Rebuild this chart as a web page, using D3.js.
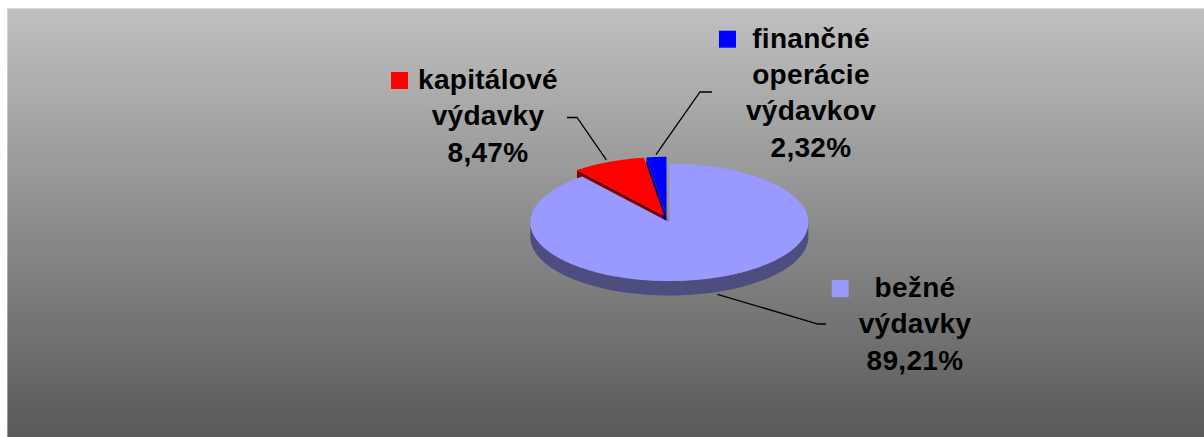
<!DOCTYPE html>
<html>
<head>
<meta charset="utf-8">
<script src="https://cdn.jsdelivr.net/npm/d3@7"></script>
<style>
    html, body { margin: 0; padding: 0; background: #fff; }
    svg { display: block; }
</style>
</head>
<body>
<div id="chart"></div>
<script>
const categories = ["bežné výdavky", "kapitálové výdavky", "finančné operácie výdavkov"];
const values = [89.21, 8.47, 2.32];
const labelLines = [["bežné", "výdavky"], ["kapitálové", "výdavky"], ["finančné", "operácie", "výdavkov"]];

const W = 1204, H = 437;

const svg = d3.select("#chart")
    .append("svg")
    .attr("width", W)
    .attr("height", H);

// fundo em degradê (cinza claro em cima, escuro embaixo)
const grad = svg.append("defs").append("linearGradient")
    .attr("id", "bg")
    .attr("x1", 0).attr("y1", 0).attr("x2", 0).attr("y2", 1);
grad.append("stop").attr("offset", "0%").attr("stop-color", "#c0c0c0");
grad.append("stop").attr("offset", "100%").attr("stop-color", "#595959");

svg.append("rect")
    .attr("x", 7).attr("y", 8)
    .attr("width", W - 7).attr("height", H - 8)
    .attr("fill", "url(#bg)");

svg.append("path")
    .attr("d", `M7.5,${H} V8.5 H${W}`)
    .attr("fill", "none")
    .attr("stroke", "#fff")
    .attr("stroke-opacity", 0.35);

// geometria da pizza 3D
const cx = 667, cy = 219, rx = 139, ry = 58.7, depth = 14.5, explode = 7;

const color = d3.scaleOrdinal().domain(categories).range(["#9999ff", "#ff0000", "#0000ff"]);
const sideColor = d3.scaleOrdinal().domain(categories).range(["#4d4d80", "#800000", "#000080"]);

const data = categories.map((c, i) => ({ category: c, value: values[i], lines: labelLines[i] }));
const arcs = d3.pie().sort(null).value(d => d.value)(data);

const fmt = v => d3.format(".2f")(v).replace(".", ",") + "%";

function origin(a) {
    const mid = (a.startAngle + a.endAngle) / 2;
    return { x: cx + explode * Math.sin(mid), y: cy - explode * Math.cos(mid) * 0.5 };
}

function pt(o, ang, r = 1, z = 0) {
    return [o.x + rx * r * Math.sin(ang), o.y - ry * r * Math.cos(ang) + z];
}

const line = d3.line();

function arcPoints(o, a0, a1, z) {
    const n = Math.max(2, Math.ceil((a1 - a0) / 0.02));
    return d3.range(n + 1).map(i => pt(o, a0 + (a1 - a0) * i / n, 1, z));
}

const walls = svg.append("g");
const tops = svg.append("g");

arcs.forEach(a => {
    const o = origin(a);
    const cat = a.data.category;

    // paredes radiais (visíveis quando a normal aponta pra frente)
    [[a.startAngle, a.startAngle - Math.PI / 2], [a.endAngle, a.endAngle + Math.PI / 2]].forEach(([ang, nrm]) => {
        if (Math.cos(nrm) < -0.01) {
            const p = pt(o, ang);
            walls.append("path")
                .attr("d", line([[o.x, o.y], p, [p[0], p[1] + depth], [o.x, o.y + depth]]) + "Z")
                .attr("fill", sideColor(cat));
        }
    });

    // parede externa na metade frontal
    const a0 = Math.max(a.startAngle, Math.PI / 2);
    const a1 = Math.min(a.endAngle, 3 * Math.PI / 2);
    if (a1 > a0) {
        const upper = arcPoints(o, a0, a1, 0);
        const lower = arcPoints(o, a0, a1, depth).reverse();
        walls.append("path")
            .attr("d", line(upper.concat(lower)) + "Z")
            .attr("fill", sideColor(cat));
    }

    // face de cima
    const top = [[o.x, o.y]].concat(arcPoints(o, a.startAngle, a.endAngle, 0));
    tops.append("path")
        .attr("d", line(top) + "Z")
        .attr("fill", color(cat));
});

// rótulos e linhas de chamada
const labelLayout = {
    "bežné výdavky": { x: 915, y: 297, elbow: [818, 324], stub: [826, 324] },
    "kapitálové výdavky": { x: 488, y: 89, elbow: [577, 117.5], stub: [567, 117.5] },
    "finančné operácie výdavkov": { x: 811, y: 47.7, elbow: [700, 92], stub: [712, 92] }
};
const lineStep = 36.3;

const labels = svg.append("g");

arcs.forEach(a => {
    const cat = a.data.category;
    const lay = labelLayout[cat];
    const o = origin(a);
    const mid = (a.startAngle + a.endAngle) / 2;
    const front = Math.cos(mid) < 0;
    const start = pt(o, mid, 1.04, front ? depth : 0);

    labels.append("path")
        .attr("d", line([start, lay.elbow, lay.stub]))
        .attr("fill", "none")
        .attr("stroke", "#000")
        .attr("stroke-width", 1.3);

    const textLines = a.data.lines.concat([fmt(a.data.value)]);
    const t = labels.append("text")
        .attr("text-anchor", "middle")
        .style("font-family", "'Liberation Sans', Arial, sans-serif")
        .style("font-weight", "bold")
        .style("font-size", "28px")
        .style("letter-spacing", "0.3px")
        .style("fill", "#000");

    let maxW = 0;
    textLines.forEach((s, i) => {
        const ts = t.append("tspan")
            .attr("x", lay.x)
            .attr("y", lay.y + i * lineStep)
            .text(s);
        maxW = Math.max(maxW, ts.node().getComputedTextLength());
    });

    labels.append("rect")
        .attr("x", lay.x - maxW / 2 - 27)
        .attr("y", lay.y - 17)
        .attr("width", 17)
        .attr("height", 17)
        .attr("fill", color(cat));
});
</script>
</body>
</html>
